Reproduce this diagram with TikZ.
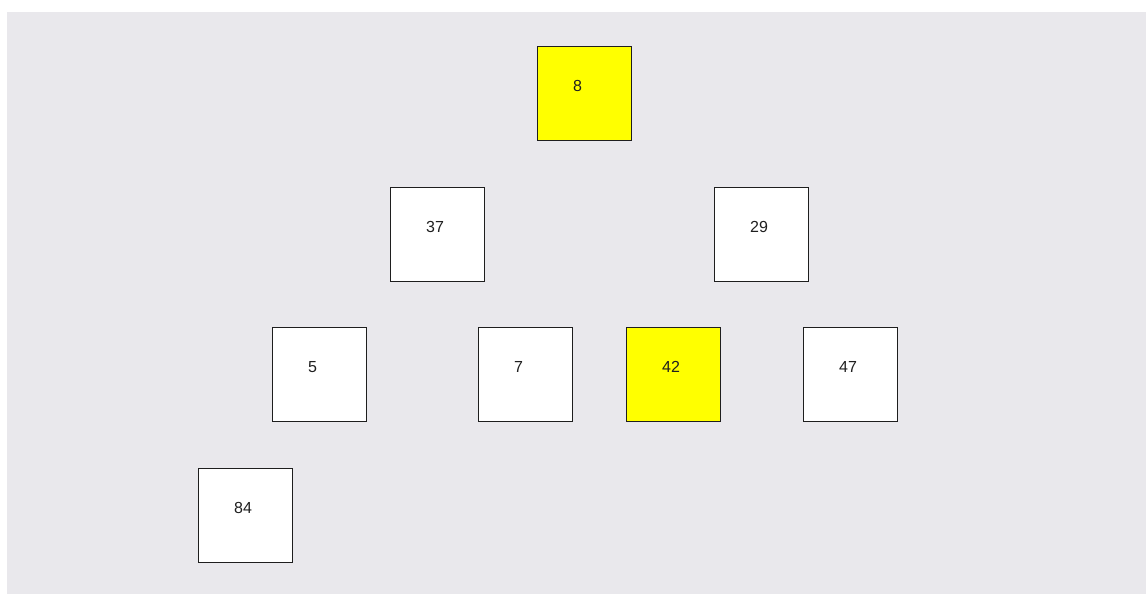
\documentclass[tikz,border=0pt]{standalone}
\usepackage{fontspec}
\setmainfont{Liberation Sans}
\usepackage{xcolor}
\usepackage{tikz}
\definecolor{panel}{RGB}{233,232,236}
\definecolor{edge}{RGB}{30,30,30}
\definecolor{mark}{RGB}{255,255,0}

\begin{document}
\begin{tikzpicture}[
      x=1pt, y=-1pt,
      cell/.style={draw=edge, line width=1pt, fill=white, minimum size=94pt,
                   inner sep=0pt},
      hot/.style={cell, fill=mark},
      key/.style={anchor=base west, inner sep=0pt, font=\fontsize{16}{18}\selectfont,
                  text=black!88}]
    \useasboundingbox (0,0) rectangle (1146,594);
    \fill[panel] (7,12) rectangle (1146,594);
    % boxes
    \node[hot] (n8) at (584.5,93.5) {};
    \node[cell] (n37) at (437.5,234.5) {};
    \node[cell] (n29) at (761.5,234.5) {};
    \node[cell] (n5) at (319.5,374.5) {};
    \node[cell] (n7) at (525.5,374.5) {};
    \node[hot] (n42) at (673.5,374.5) {};
    \node[cell] (n47) at (850.5,374.5) {};
    \node[cell] (n84) at (245.5,515.5) {};
    % values
    \node[key] (k8) at ([shift={(36,45.5)}]n8.north west) {8};
    \node[key] (k37) at ([shift={(36,45.5)}]n37.north west) {37};
    \node[key] (k29) at ([shift={(36,45.5)}]n29.north west) {29};
    \node[key] (k5) at ([shift={(36,45.5)}]n5.north west) {5};
    \node[key] (k7) at ([shift={(36,45.5)}]n7.north west) {7};
    \node[key] (k42) at ([shift={(36,45.5)}]n42.north west) {42};
    \node[key] (k47) at ([shift={(36,45.5)}]n47.north west) {47};
    \node[key] (k84) at ([shift={(36,45.5)}]n84.north west) {84};
  \end{tikzpicture}
\end{document}
